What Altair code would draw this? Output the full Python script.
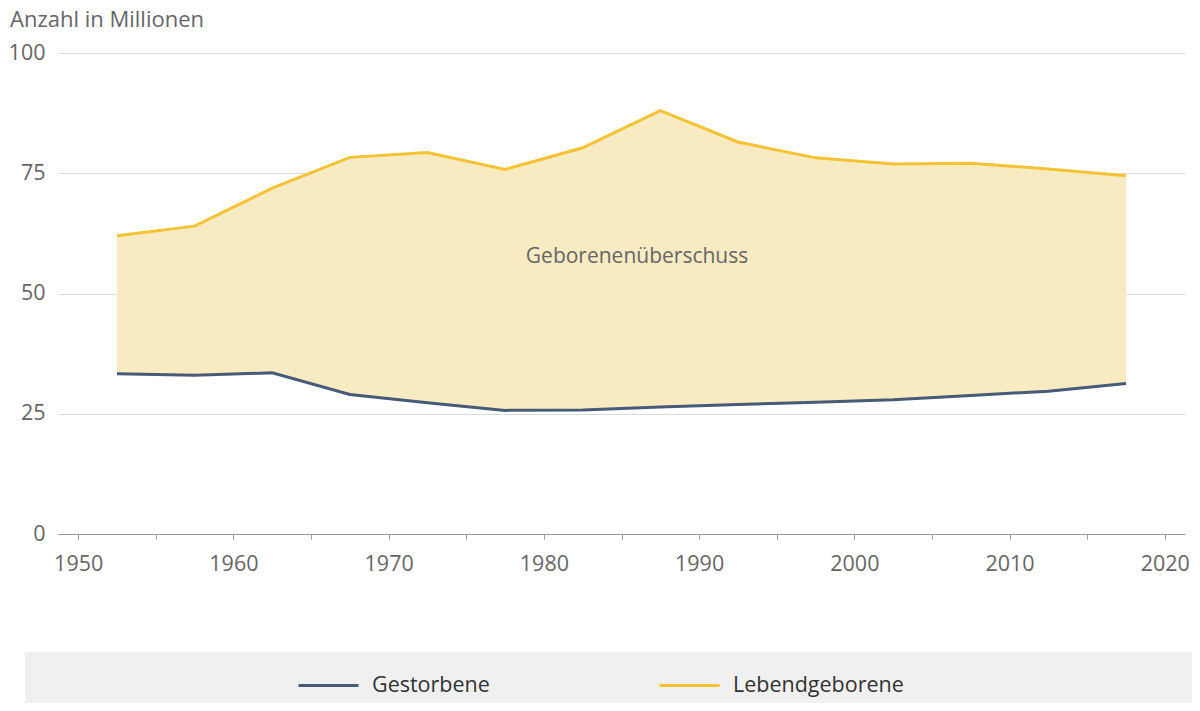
import altair as alt
import pandas as pd

years = [1952.5, 1957.5, 1962.5, 1967.5, 1972.5, 1977.5, 1982.5, 1987.5,
         1992.5, 1997.5, 2002.5, 2007.5, 2012.5, 2017.5]
lebendgeborene = [62.0, 64.0, 71.9, 78.3, 79.3, 75.8, 80.3, 88.0,
                  81.5, 78.2, 76.9, 77.1, 75.9, 74.5]
gestorbene = [33.3, 33.0, 33.5, 29.0, 27.3, 25.7, 25.8, 26.4,
              26.9, 27.4, 27.9, 28.8, 29.7, 31.3]
series_names = ["Gestorbene", "Lebendgeborene"]
series_colors = ["#475a78", "#f4c233"]
x_ticks = list(range(1950, 2021, 5))
y_ticks = [0, 25, 50, 75, 100]
annotation = {"year": 1986.0, "value": 57.6, "text": "Geborenenüberschuss"}
unit_title = "Anzahl in Millionen"

FONT = "Open Sans"
GREY = "#666666"
FS = 21.5

wide = pd.DataFrame({"year": years, "leb": lebendgeborene, "gest": gestorbene})
long = pd.DataFrame({
    "year": years + years,
    "value": gestorbene + lebendgeborene,
    "series": [series_names[0]] * len(years) + [series_names[1]] * len(years),
})
ann = pd.DataFrame([annotation])

xscale = alt.Scale(domain=[1948.7, 2021.3], nice=False, zero=False)
yscale = alt.Scale(domain=[0, 100], nice=False)

band = alt.Chart(pd.DataFrame({"a": [0]})).mark_rect(color="#f0f0f0").encode(
    x=alt.value(-33), x2=alt.value(1134), y=alt.value(599), y2=alt.value(650)
)

title_text = alt.Chart(pd.DataFrame({"t": [unit_title]})).mark_text(
    align="left", baseline="alphabetic", fontSize=22, color=GREY, font=FONT
).encode(x=alt.value(-48), y=alt.value(-26), text="t:N")

area = alt.Chart(wide).mark_area(color="#f8ebc2", opacity=1).encode(
    x=alt.X("year:Q", scale=xscale,
            axis=alt.Axis(values=x_ticks, title=None, grid=False,
                          labelExpr="datum.value % 10 == 0 ? datum.label : ''",
                          format="d", tickSize=5, tickColor="#9a9a9a",
                          domainColor="#9a9a9a", labelPadding=14,
                          labelFontSize=FS, labelColor=GREY, labelFont=FONT)),
    y=alt.Y("leb:Q", scale=yscale,
            axis=alt.Axis(values=y_ticks, title=None,
                          domain=False, ticks=False, labelPadding=13,
                          labelFontSize=FS, labelColor=GREY, labelFont=FONT,
                          gridColor="#d9d9d9", gridWidth=1)),
    y2="gest:Q",
)

lines = alt.Chart(long).mark_line(strokeWidth=3).encode(
    x=alt.X("year:Q", scale=xscale),
    y=alt.Y("value:Q", scale=yscale),
    color=alt.Color("series:N",
                    scale=alt.Scale(domain=series_names, range=series_colors),
                    legend=alt.Legend(title=None, orient="none", direction="horizontal",
                                      legendX=239, legendY=601, padding=0,
                                      symbolType="stroke", symbolSize=3600,
                                      symbolStrokeWidth=3, labelOffset=12,
                                      columnPadding=163, labelFontSize=FS,
                                      labelLimit=400,
                                      labelColor="#333333", labelFont=FONT,
                                      symbolOpacity=1)),
)

text = alt.Chart(ann).mark_text(fontSize=21, color=GREY, font=FONT).encode(
    x=alt.X("year:Q", scale=xscale),
    y=alt.Y("value:Q", scale=yscale),
    text="text:N",
)

chart = alt.layer(band, area, lines, text, title_text).properties(
    width=1127, height=481,
    autosize=alt.AutoSizeParams(type="none"),
    padding={"left": 50, "top": 45, "right": 7, "bottom": 169},
).configure(background="white").configure_view(strokeWidth=0)

chart.save("out.html", embed_options={"renderer": "svg", "actions": False})
